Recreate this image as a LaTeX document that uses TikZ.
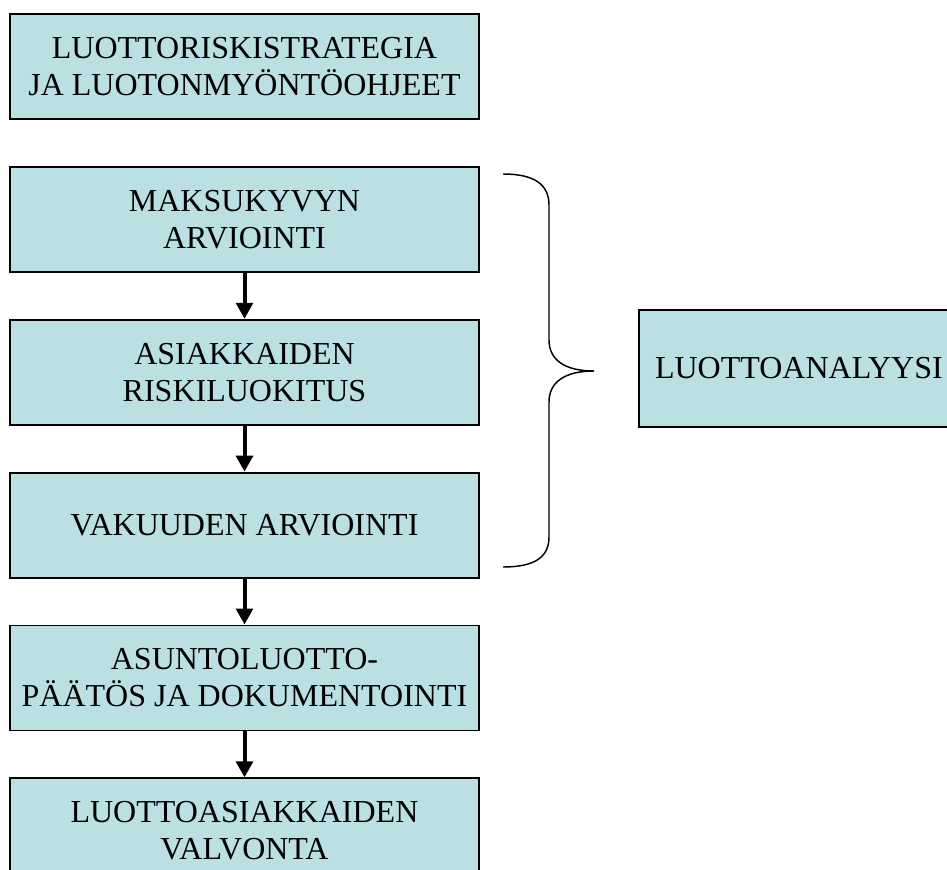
\documentclass[tikz,border=0pt]{standalone}
\usepackage{fontspec}
\setmainfont{Liberation Serif}
\usetikzlibrary{arrows.meta,positioning}
\definecolor{boxfill}{RGB}{187,224,227}

\begin{document}
\begin{tikzpicture}[
   x=0.75pt, y=-0.75pt,
   node distance=34.5pt,
   box/.style={draw, fill=boxfill, line width=1.4pt, minimum width=351.75pt,
               minimum height=78.75pt, align=center,
               font=\fontsize{24}{27.75}\selectfont},
   flow/.style={-{Triangle[width=12.5pt,length=12pt]}, line width=3pt},
   brace/.style={line width=1.1pt}]
  \useasboundingbox (0,0) rectangle (947,870);
  \node[box] (strat) at (244.5,66.5) {LUOTTORISKISTRATEGIA\\JA LUOTONMYÖNTÖOHJEET};
  \node[box, below=of strat] (maksu) {MAKSUKYVYN\\ARVIOINTI};
  \node[box, below=of maksu] (riski) {ASIAKKAIDEN\\RISKILUOKITUS};
  \node[box, below=of riski] (vakuus) {VAKUUDEN ARVIOINTI};
  \node[box, below=of vakuus] (paatos) {ASUNTOLUOTTO-\\PÄÄTÖS JA DOKUMENTOINTI};
  \node[box, below=of paatos] (valvonta) {LUOTTOASIAKKAIDEN\\VALVONTA};
  \node[box, anchor=west, minimum width=240pt, minimum height=87.75pt]
     (analyysi) at (638,368.5) {LUOTTOANALYYSI};
  \draw[flow] (maksu) -- (riski);
  \draw[flow] (riski) -- (vakuus);
  \draw[flow] (vakuus) -- (paatos);
  \draw[flow] (paatos) -- (valvonta);
  % brace round the three analysis steps
  \draw[brace] (503,174) .. controls (535,174) and (549,185) .. (549,205)
     -- (549,340) .. controls (549,360) and (565,371) .. (594,371)
     .. controls (565,371) and (549,382) .. (549,402)
     -- (549,537) .. controls (549,557) and (535,567) .. (503,567);
\end{tikzpicture}
\end{document}
